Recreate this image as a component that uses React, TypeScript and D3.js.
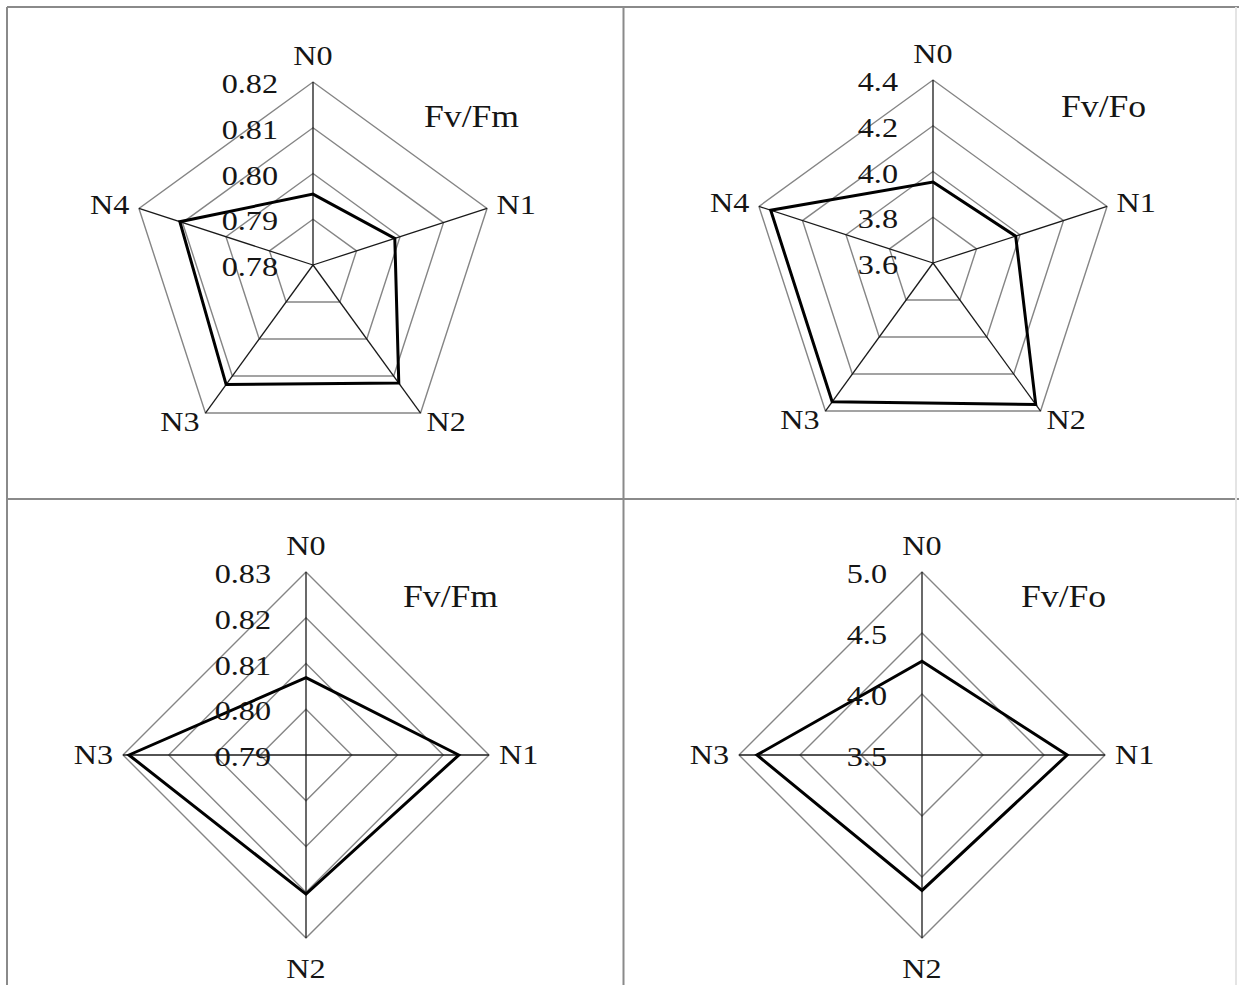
import React, { useRef, useEffect } from "react";
import * as d3 from "d3";

// categories (treatments)
const topCategories = ["N0", "N1", "N2", "N3", "N4"];
const bottomCategories = ["N0", "N1", "N2", "N3"];

// series values
const fvFmTop = [0.7955, 0.7988, 0.8119, 0.8123, 0.8106];
const fvFoTop = [3.954, 3.98, 4.364, 4.35, 4.346];
const fvFmBottom = [0.8069, 0.8234, 0.8204, 0.8287];
const fvFoBottom = [4.269, 4.69, 4.61, 4.853];

// radial axis ticks
const fvFmTopTicks = [0.78, 0.79, 0.8, 0.81, 0.82];
const fvFoTopTicks = [3.6, 3.8, 4.0, 4.2, 4.4];
const fvFmBottomTicks = [0.79, 0.8, 0.81, 0.82, 0.83];
const fvFoBottomTicks = [3.5, 4.0, 4.5, 5.0];

const panels = [
    { title: "Fv/Fm", cats: topCategories, values: fvFmTop, ticks: fvFmTopTicks, fmt: ".2f", cx: 313, cy: 265, tdx: 111, tdy: -138 },
    { title: "Fv/Fo", cats: topCategories, values: fvFoTop, ticks: fvFoTopTicks, fmt: ".1f", cx: 933, cy: 263, tdx: 128, tdy: -146 },
    { title: "Fv/Fm", cats: bottomCategories, values: fvFmBottom, ticks: fvFmBottomTicks, fmt: ".2f", cx: 306, cy: 755, tdx: 97, tdy: -148 },
    { title: "Fv/Fo", cats: bottomCategories, values: fvFoBottom, ticks: fvFoBottomTicks, fmt: ".1f", cx: 922, cy: 755, tdx: 99, tdy: -148 },
];

const App = () => {
    const ref = useRef<SVGSVGElement>(null);

    useEffect(() => {
        const svgWidth = 1239;
        const svgHeight = 985;
        const R = 183;
        const gridColor = "#858585";
        const borderColor = "#8a8a8a";
        const textColor = "#151515";
        const font = "'Liberation Serif', 'Times New Roman', serif";
        const stretch = 1.15;

        const svg = d3.select(ref.current)
            .attr("width", svgWidth)
            .attr("height", svgHeight);

        svg.selectAll("*").remove();

        svg.append("rect")
            .attr("width", svgWidth)
            .attr("height", svgHeight)
            .attr("fill", "white");

        // panel frame
        const frame = svg.append("g")
            .attr("stroke", borderColor)
            .attr("stroke-width", 2);
        frame.append("line").attr("x1", 7).attr("x2", svgWidth).attr("y1", 7).attr("y2", 7);
        frame.append("line").attr("x1", 7).attr("x2", 7).attr("y1", 7).attr("y2", svgHeight);
        frame.append("line").attr("x1", 623.5).attr("x2", 623.5).attr("y1", 7).attr("y2", svgHeight);
        frame.append("line").attr("x1", 7).attr("x2", svgWidth).attr("y1", 499).attr("y2", 499);
        frame.append("line").attr("x1", 1236).attr("x2", 1236).attr("y1", 7).attr("y2", svgHeight)
            .attr("stroke", "#e4e4e4");

        const addText = (g: any, x: number, y: number, txt: string, anchor: string, size: number) => {
            g.append("text")
                .attr("transform", `translate(${x},${y}) scale(${stretch},1)`)
                .attr("text-anchor", anchor)
                .style("font-family", font)
                .style("font-size", size + "px")
                .style("fill", textColor)
                .text(txt);
        };

        panels.forEach(p => {
            const n = p.cats.length;
            const g = svg.append("g").attr("transform", `translate(${p.cx},${p.cy})`);

            const rScale = d3.scaleLinear()
                .domain([p.ticks[0], p.ticks[p.ticks.length - 1]])
                .range([0, R]);
            const angle = d3.scaleLinear().domain([0, n]).range([0, 2 * Math.PI]);

            const radar = d3.lineRadial<number>()
                .angle((_, i) => angle(i))
                .radius(d => rScale(d))
                .curve(d3.curveLinearClosed);

            // grid rings
            p.ticks.slice(1).forEach(t => {
                g.append("path")
                    .attr("d", radar(p.cats.map(() => t)))
                    .attr("fill", "none")
                    .attr("stroke", gridColor)
                    .attr("stroke-width", 1.4);
            });

            // spokes
            p.cats.forEach((c, i) => {
                const a = angle(i);
                g.append("line")
                    .attr("x1", 0).attr("y1", 0)
                    .attr("x2", R * Math.sin(a))
                    .attr("y2", -R * Math.cos(a))
                    .attr("stroke", "#1a1a1a")
                    .attr("stroke-width", 1.3);
            });

            // data line
            g.append("path")
                .attr("d", radar(p.values))
                .attr("fill", "none")
                .attr("stroke", "#000")
                .attr("stroke-width", 3)
                .attr("stroke-linejoin", "miter");

            // radial tick labels
            const fmt = d3.format(p.fmt);
            p.ticks.forEach(t => {
                addText(g, -35, -rScale(t) + 11, fmt(t), "end", 28);
            });

            // category labels
            p.cats.forEach((c, i) => {
                const a = angle(i);
                const s = Math.sin(a);
                const co = Math.cos(a);
                const vx = R * s;
                const vy = -R * co;
                if (Math.abs(s) < 0.3) {
                    if (co > 0) addText(g, vx, vy - 17, c, "middle", 28);
                    else addText(g, vx, vy + 40, c, "middle", 28);
                } else {
                    addText(g, vx + s * 10, vy - co * 11 + 9, c, s > 0 ? "start" : "end", 28);
                }
            });

            // panel title
            addText(g, p.tdx, p.tdy, p.title, "start", 31);
        });
    }, []);

    return (
        <div style={{ position: "absolute", left: 0, top: 0 }}>
            <svg ref={ref} style={{ display: "block" }}></svg>
        </div>
    );
};

export default App;
